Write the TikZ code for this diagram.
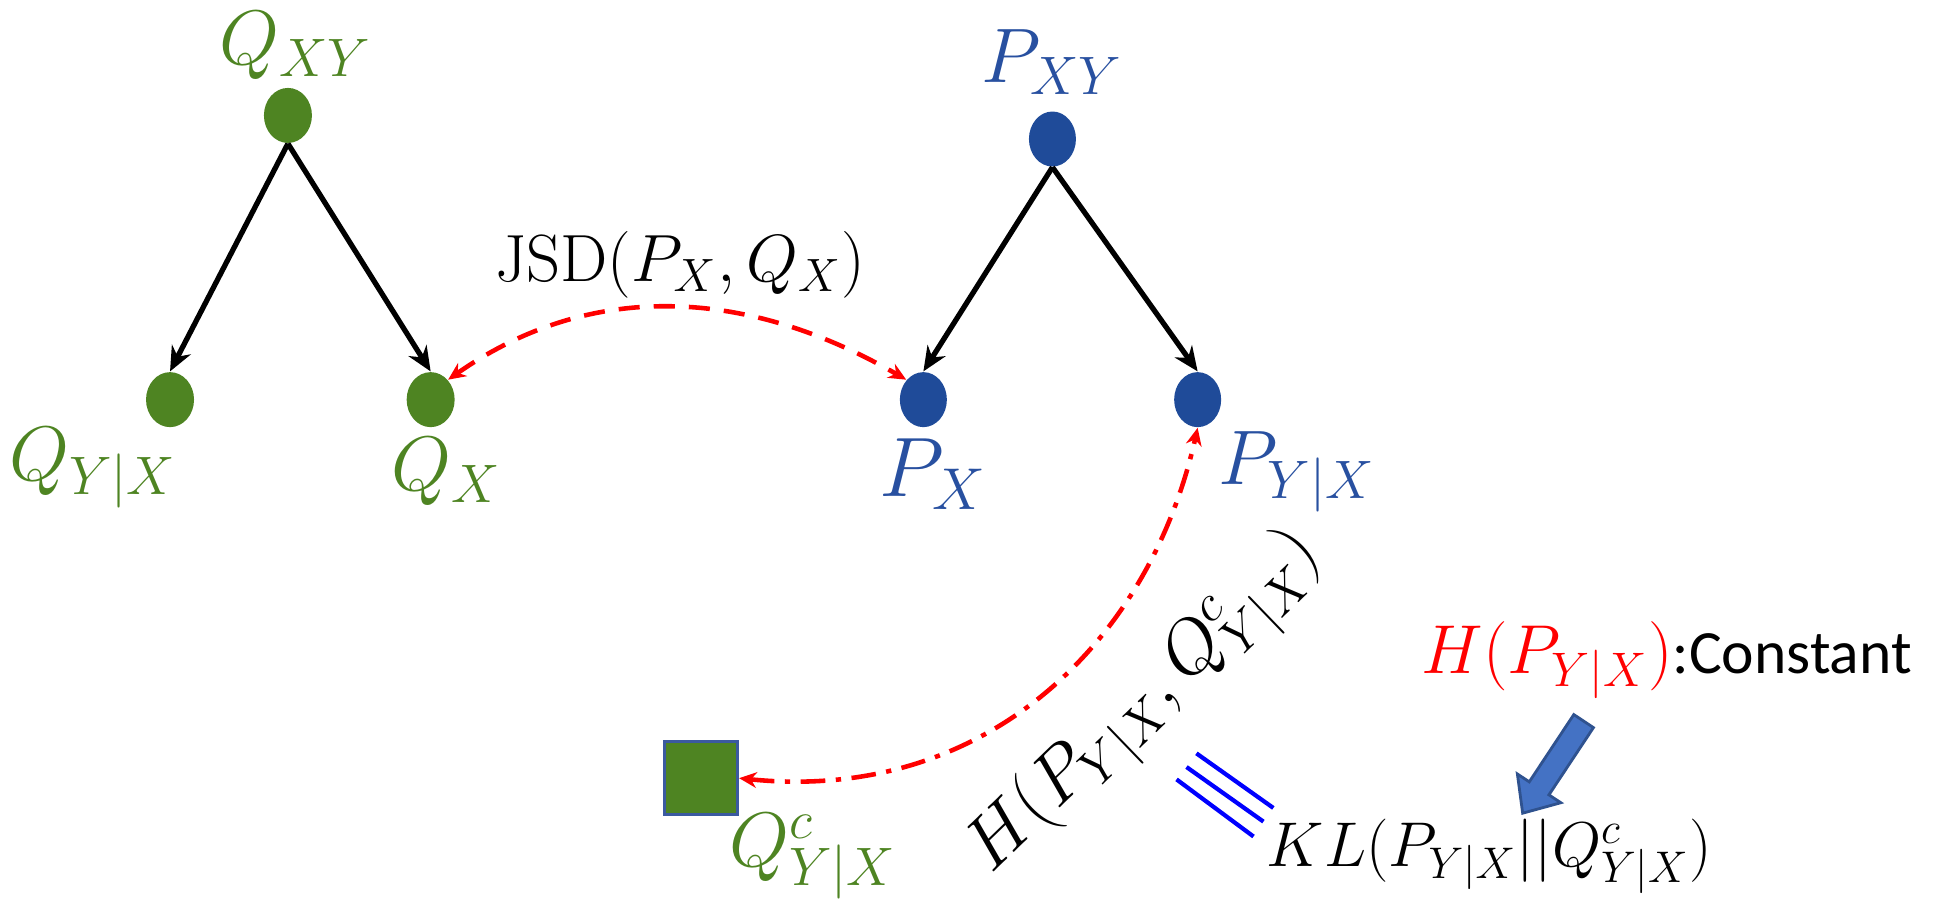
\IfFileExists{fix-cm.sty}{\RequirePackage{fix-cm}}{}
\documentclass[tikz,border=0pt]{standalone}
\usepackage{fontspec}
\newfontfamily\carlito{Carlito}
\usetikzlibrary{arrows.meta,shapes.geometric}
\definecolor{qgreen}{RGB}{78,132,34}
\definecolor{pblue}{RGB}{31,75,153}
\definecolor{pbluetext}{RGB}{40,80,160}
\definecolor{sqborder}{RGB}{59,90,160}
\definecolor{arrfill}{RGB}{68,114,196}
\definecolor{arrdraw}{RGB}{47,82,143}
\begin{document}
\begin{tikzpicture}[x=0.1241mm,y=0.1241mm,
  gdot/.style={ellipse, fill=qgreen, minimum width=4.8mm, minimum height=5.5mm, inner sep=0pt},
  bdot/.style={ellipse, fill=pblue, minimum width=4.7mm, minimum height=5.5mm, inner sep=0pt},
  glbl/.style={inner sep=0pt, text=qgreen, font=\fontsize{22}{26}\selectfont},
  blbl/.style={inner sep=0pt, text=pbluetext, font=\fontsize{22}{26}\selectfont},
  tree/.style={line width=1.5pt, -{Stealth[length=7pt,width=6pt]}},
  redarr/.style={red, line width=1.3pt, {Stealth[length=5pt,width=4.5pt]}-{Stealth[length=5pt,width=4.5pt]}},
  mlbl/.style={inner sep=0pt, font=\fontsize{19}{23}\selectfont}]
\useasboundingbox (0,0) rectangle (1568,732);

% Q tree
\node[gdot] (qxy) at (232,639) {};
\node[gdot] (qyx) at (137,410) {};
\node[gdot] (qx)  at (347,410) {};
\node[glbl] (lqxy) at (238,695) {$Q_{XY}$};
\node[glbl] (lqyx) at (75,355) {$Q_{Y|X}$};
\node[glbl] (lqx)  at (360,352) {$Q_X$};
\draw[tree] (qxy.south) -- (qyx.north);
\draw[tree] (qxy.south) -- (qx.north);

% P tree
\node[bdot] (pxy) at (848,620) {};
\node[bdot] (px)  at (744,410) {};
\node[bdot] (pyx) at (965,410) {};
\node[blbl] (lpxy) at (848,682) {$P_{XY}$};
\node[blbl, font=\fontsize{24}{28}\selectfont] (lpx) at (752,350) {$P_X$};
\node[blbl] (lpyx) at (1045,352) {$P_{Y|X}$};
\draw[tree] (pxy.south) -- (px.north);
\draw[tree] (pxy.south) -- (pyx.north);

% JSD
\node[mlbl] (jsd) at (548,519) {$\mathrm{JSD}(P_X,Q_X)$};
\draw[redarr, dash pattern=on 6pt off 4pt] (qx.north east) to[out=35,in=150] (px.north west);

% Q^c square
\node[draw=sqborder, line width=0.8pt, fill=qgreen, minimum size=7.3mm, inner sep=0pt] (sq) at (565,105) {};
\node[glbl] (lsq) at (655,42) {$Q^c_{Y|X}$};
\draw[redarr, dash pattern=on 7pt off 3pt on 1.5pt off 3pt] (sq.east) .. controls (790,85) and (925,210) .. (pyx.south);

% cross-entropy label
\node[inner sep=0pt, rotate=44, font=\fontsize{21}{25}\selectfont] (hce) at (925,163) {$H(P_{Y|X},Q^c_{Y|X})$};

% triple lines
\draw[blue, line width=1.2pt] (964,125) -- (1026,81);
\draw[blue, line width=1.2pt] (956,114) -- (1018,70);
\draw[blue, line width=1.2pt] (948,104) -- (1010,58);

% KL
\node[inner sep=0pt, font=\fontsize{18}{22}\selectfont] (kl) at (1200,42) {$KL(P_{Y|X}||Q^c_{Y|X})$};

% constant
\node[inner sep=0pt] (const) at (1343,200) {\textcolor{red}{\fontsize{19.7}{24}\selectfont$H(P_{Y|X})$}{\carlito\fontsize{17.5}{21}\selectfont :Constant}};

% block arrow
\begin{scope}[shift={(1276,151)}, rotate=236.5]
\draw[fill=arrfill, draw=arrdraw, line width=0.8pt] (0,-9.5) -- (65,-9.5) -- (65,-21) -- (89,0) -- (65,21) -- (65,9.5) -- (0,9.5) -- cycle;
\end{scope}
\end{tikzpicture}
\end{document}
